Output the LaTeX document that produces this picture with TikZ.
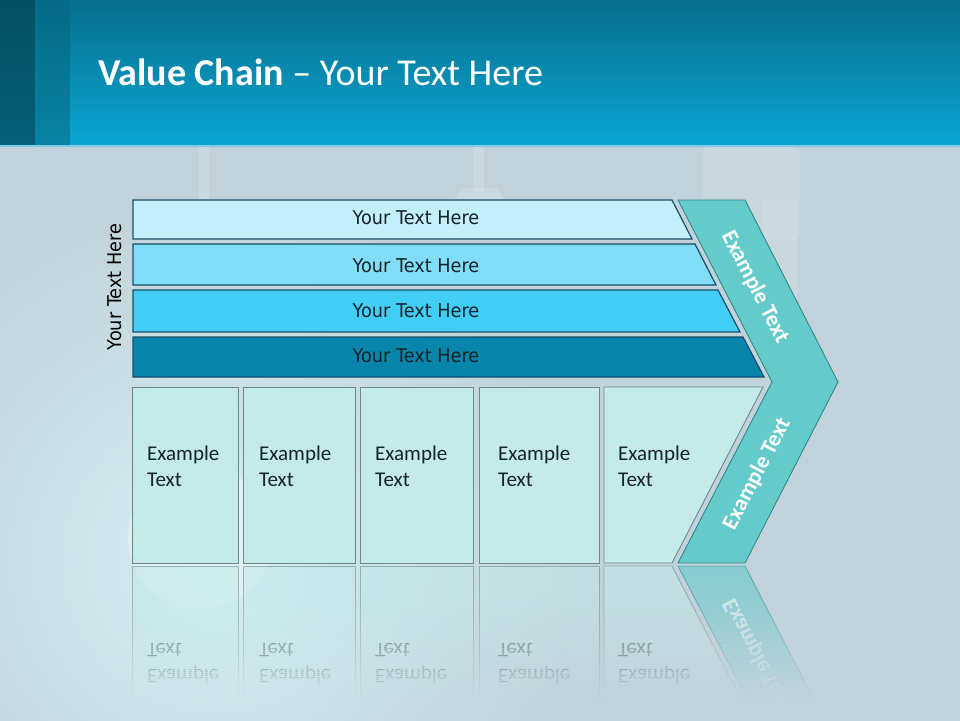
\documentclass[tikz,border=0pt]{standalone}
\usepackage{fontspec}
\setmainfont{Carlito}
\newfontfamily\barfont[FakeStretch=0.93]{DejaVu Sans}
\definecolor{bgc}{HTML}{C2D2DB}
\definecolor{glowc}{HTML}{D4EFF3}
\definecolor{hdrtop}{HTML}{066F8D}
\definecolor{hdrbot}{HTML}{0BA6D2}
\definecolor{stripAt}{HTML}{044F63}
\definecolor{stripAb}{HTML}{075F78}
\definecolor{stripBt}{HTML}{056B86}
\definecolor{stripBb}{HTML}{0883A4}
\definecolor{hdrline}{HTML}{7FCBE2}
\definecolor{barA}{HTML}{C3EFFB}
\definecolor{barB}{HTML}{82DEF8}
\definecolor{barC}{HTML}{42CDF5}
\definecolor{barD}{HTML}{0885AB}
\definecolor{barline}{HTML}{16506A}
\definecolor{boxfill}{HTML}{C4EAEA}
\definecolor{boxline}{HTML}{70878A}
\definecolor{chevfill}{HTML}{64CBCA}
\definecolor{chevline}{HTML}{2F8B8B}
\definecolor{inktext}{HTML}{14242A}

\newcommand\vcboxes[1]{%
  \draw[vcbox] (132,387) rectangle (238,563);
  \draw[vcbox] (243,387) rectangle (355,563);
  \draw[vcbox] (360,387) rectangle (473,563);
  \draw[vcbox] (479,387) rectangle (599,563);
  \draw[vcbox] (604,387) -- (763,387) -- (672,563) -- (604,563) -- cycle;
  \node[extext] (#1t1) at (147,486) {Example\\Text};
  \node[extext] (#1t2) at (259,486) {Example\\Text};
  \node[extext] (#1t3) at (375,486) {Example\\Text};
  \node[extext] (#1t4) at (498,486) {Example\\Text};
  \node[extext] (#1t5) at (618,486) {Example\\Text};
}
\newcommand\vcbg[1]{%
  \fill[bgc, opacity=#1, even odd rule] (-10,-10) rectangle (970,740) (215,560) circle (360);
  \shade[inner color=glowc, outer color=bgc, opacity=#1] (215,560) circle (360);
}

\begin{document}
\begin{tikzpicture}[x=1pt,y=-1pt,
  vcbar/.style={draw=barline, line width=1.2pt},
  vcbox/.style={draw=boxline, fill=boxfill, line width=0.9pt},
  vcchev/.style={draw=chevline, fill=chevfill, line width=0.9pt},
  bartext/.style={font=\barfont\fontsize{19}{22}\selectfont, text=inktext, inner sep=0},
  extext/.style={font=\fontsize{21}{26}\selectfont, align=left, anchor=base west, text=inktext, inner sep=0},
  chevtext/.style={font=\bfseries\fontsize{22.5}{26}\selectfont, text=white, inner sep=0},
  bgdeco/.style={fill=white, opacity=0.14}]
\useasboundingbox (0,0) rectangle (960,720);
% background
\fill[bgc] (-10,-10) rectangle (970,740);
\shade[inner color=glowc, outer color=bgc] (215,560) circle (360);
% faint background objects
\fill[bgdeco] (199,147) rectangle (209,200);
\fill[bgdeco] (473,147) rectangle (484,192);
\fill[bgdeco] (462,188) -- (496,188) -- (504,200) -- (454,200) -- cycle;
\fill[white, opacity=0.10, rounded corners=6] (702,147) rectangle (800,240);
\fill[white, opacity=0.12, rounded corners=4] (762,200) rectangle (798,300);
\fill[white, opacity=0.35] (200,538) circle (72);
% header
\shade[top color=hdrtop, bottom color=hdrbot] (0,0) rectangle (960,145);
\shade[top color=stripAt, bottom color=stripAb] (0,0) rectangle (35,145);
\shade[top color=stripBt, bottom color=stripBb] (35,0) rectangle (70,145);
\fill[hdrline] (0,145) rectangle (960,147);
\node[anchor=base west, text=white, font=\fontsize{38}{42}\selectfont, inner sep=0] (title) at (98,85) {\textbf{Value Chain} -- Your Text Here};
% side label
\node[font=\barfont\fontsize{19}{22}\selectfont, text=black, rotate=90, inner sep=0] (side) at (115,287) {Your Text Here};
% bars
\draw[vcbar, fill=barA] (133,200) -- (672,200) -- (692,239) -- (133,239) -- cycle;
\draw[vcbar, fill=barB] (133,244) -- (695,244) -- (716,285) -- (133,285) -- cycle;
\draw[vcbar, fill=barC] (133,290) -- (718,290) -- (740,332) -- (133,332) -- cycle;
\draw[vcbar, fill=barD] (133,337) -- (743,337) -- (764,377) -- (133,377) -- cycle;
\node[bartext] (bar1) at (416,218) {Your Text Here};
\node[bartext] (bar2) at (416,266) {Your Text Here};
\node[bartext] (bar3) at (416,311) {Your Text Here};
\node[bartext] (bar4) at (416,356) {Your Text Here};
% chevron
\draw[vcchev] (678,200) -- (745,200) -- (838,382) -- (745,563) -- (678,563) -- (772,382) -- cycle;
\node[chevtext, rotate=-62.7] (chev1) at (755,287) {Example Text};
\node[chevtext, rotate=62.7] (chev2) at (757,474) {Example Text};
% boxes
\vcboxes{m}
% reflection
\begin{scope}[opacity=0.6]
  \begin{scope}[shift={(0,1129)}, yscale=-1, transform shape]
    \vcboxes{r}
    \draw[vcchev] (772,382) -- (838,382) -- (745,563) -- (678,563) -- cycle;
    \node[chevtext, rotate=62.7] (rchev2) at (757,474) {Example Text};
  \end{scope}
\end{scope}
% fade the reflection into the background
\foreach \i in {0,...,69} {
  \pgfmathsetmacro\op{min(1,((\i+1)/70)^1.7)}
  \begin{scope}
    \clip (125,{564+2*\i}) rectangle (860,{566+2*\i});
    \vcbg{\op}
  \end{scope}
}
\begin{scope}
  \clip (120,704) rectangle (870,740);
  \vcbg{1}
\end{scope}
\end{tikzpicture}
\end{document}
